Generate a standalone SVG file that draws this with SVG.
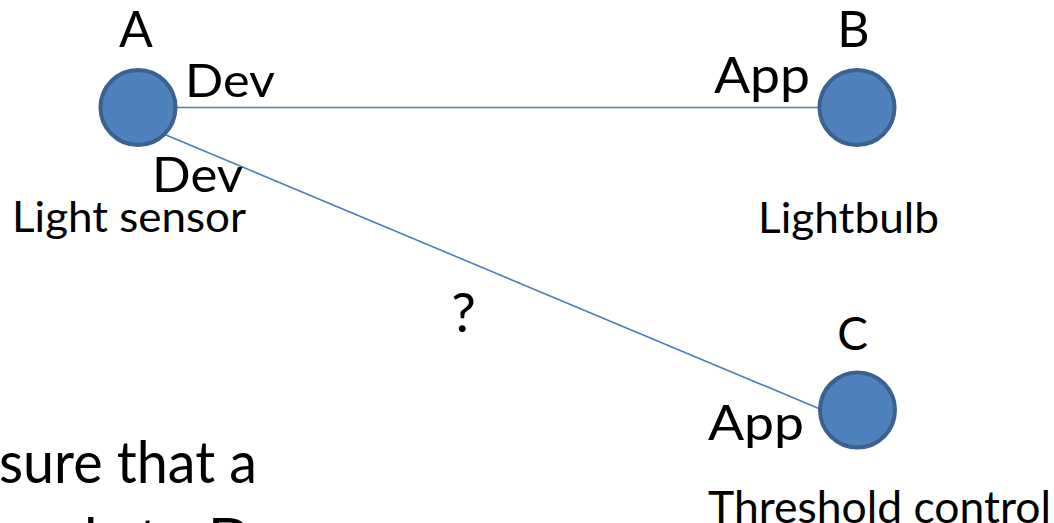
<svg xmlns="http://www.w3.org/2000/svg" width="1054" height="523" viewBox="0 0 1054 523">
<style>
.node{fill:#4F81BD;stroke:#3A6190;stroke-width:4}
.edge{stroke:#4A7EBB;stroke-width:1.6;fill:none}
text{font-family:Lato,"Open Sans","Liberation Sans",sans-serif;fill:#000}
.lbl{font-size:46px}
.big{font-size:50px}
.cap{font-size:43px}
</style>
<rect width="1054" height="523" fill="#fff"/>
<g id="connectors">
<line class="edge" x1="176" y1="107.5" x2="819" y2="107.5"/>
<line class="edge" x1="166" y1="135" x2="820" y2="409"/>
<text x="463.5" y="332" text-anchor="middle" style="font-size:55px">?</text>
<text class="lbl" x="185" y="97" textLength="90" lengthAdjust="spacingAndGlyphs">Dev</text>
<text class="lbl" x="152" y="192" textLength="91" lengthAdjust="spacingAndGlyphs" style="font-size:48px">Dev</text>
<text class="big" x="714" y="93" textLength="96" lengthAdjust="spacingAndGlyphs">App</text>
<text class="big" x="708" y="440" textLength="96" lengthAdjust="spacingAndGlyphs" style="font-size:48px">App</text>
</g>
<g id="nodeA">
<circle class="node" cx="138" cy="107.5" r="37.5"/>
<text class="big" x="136" y="47" text-anchor="middle">A</text>
<text class="cap" x="12" y="232" textLength="234" lengthAdjust="spacingAndGlyphs">Light sensor</text>
</g>
<g id="nodeB">
<circle class="node" cx="857" cy="107.5" r="37.5"/>
<text class="big" x="853.5" y="47" text-anchor="middle">B</text>
<text class="cap" x="758" y="233" textLength="181" lengthAdjust="spacingAndGlyphs">Lightbulb</text>
</g>
<g id="nodeC">
<circle class="node" cx="857.5" cy="410" r="37.5"/>
<text class="lbl" x="852.5" y="350" text-anchor="middle">C</text>
<text x="708" y="523" textLength="343" lengthAdjust="spacingAndGlyphs" style="font-size:45px">Threshold control</text>
</g>
<g id="body">
<text x="-1" y="483" textLength="258" lengthAdjust="spacingAndGlyphs" style="font-size:59px">sure that a</text>
<text x="-25" y="560" style="font-size:59px">sends to D</text>
</g>
</svg>
